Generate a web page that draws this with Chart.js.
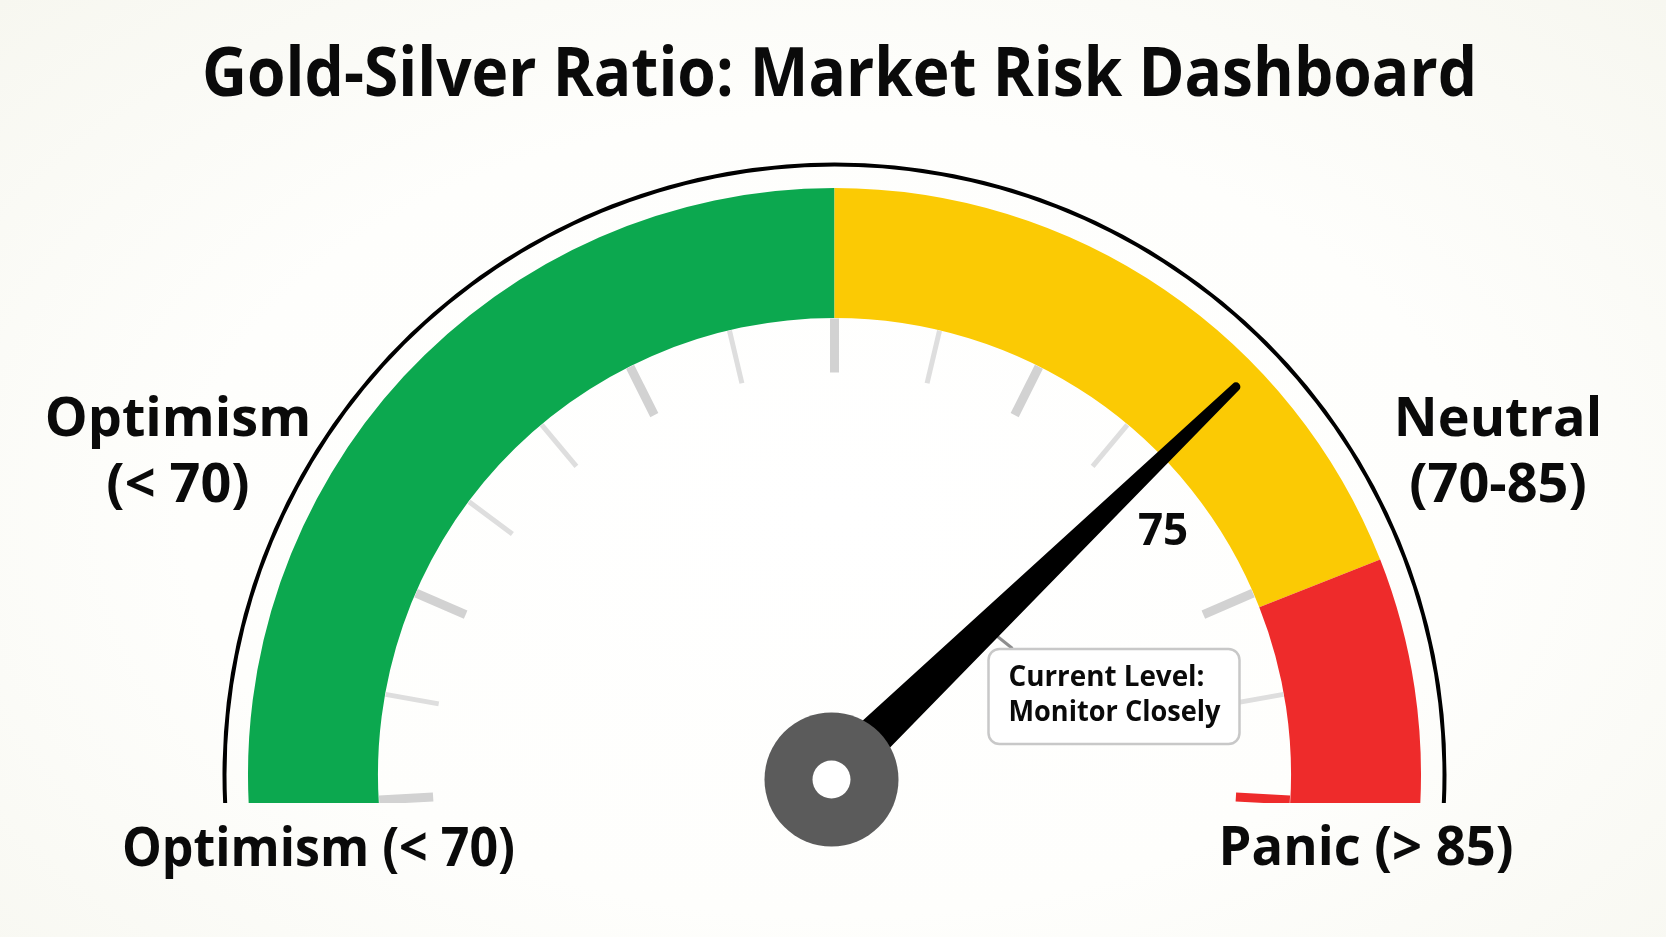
<!DOCTYPE html>
<html>
<head>
<meta charset="utf-8">
<title>Gold-Silver Ratio: Market Risk Dashboard</title>
<script src="https://cdn.jsdelivr.net/npm/chart.js@4.4.1/dist/chart.umd.min.js"></script>
<style>
  html, body { margin: 0; padding: 0; }
  body { width: 1666px; height: 937px; overflow: hidden; background: radial-gradient(ellipse at 50% 55%, #ffffff 0%, #fefefc 55%, #f7f7f0 100%); }
  #wrap { position: relative; width: 1666px; height: 937px; }
</style>
</head>
<body>
<div id="wrap"><canvas id="gauge"></canvas></div>
<script>
const chartTitle = "Gold-Silver Ratio: Market Risk Dashboard";
const zoneLabels = ["Optimism (< 70)", "Neutral (70-85)", "Panic (> 85)"];
const zoneSweep = [90, 68.5, 21.5];
const zoneColors = ["#0ca84f", "#fbca04", "#ee2b2b"];
const tickCount = 15;
const tickFrom = -3.2, tickTo = 183.2;
const majorTicks = [0, 2, 5, 7, 9, 12, 14];
const tickLabels = ["", "", "", "", "", "", "", "", "", "", "", "75", "", "", ""];
const needleDial = 136;
const calloutLines = ["Current Level:", "Monitor Closely"];

// the bands run a bit below horizontal and get cut flat
const TAIL = 4.5, DROP = 28.5, OUTER = 612;
const arcData = zoneSweep.map((v, i) => v + (i === 0 || i === zoneSweep.length - 1 ? TAIL : 0));
const arcTotal = arcData.reduce((a, b) => a + b, 0);
const offY = (1 - Math.sin(TAIL * Math.PI / 180)) / 2 * OUTER;
const padTop = Math.round(2 * (774.5 - offY) - 937);
const FONT = "'Open Sans', 'Noto Sans', sans-serif";

function txt(ctx, s, x, y, size, align, maxW) {
    ctx.font = `bold ${size}px ${FONT}`;
    ctx.textAlign = align; ctx.textBaseline = "alphabetic"; ctx.fillStyle = "#0a0a0a";
    const w = ctx.measureText(s).width;
    if (maxW && w > maxW) ctx.fillText(s, x, y, maxW); else ctx.fillText(s, x, y);
}

function roundRect(ctx, x, y, w, h, r) {
    ctx.beginPath();
    ctx.moveTo(x + r, y); ctx.lineTo(x + w - r, y); ctx.arcTo(x + w, y, x + w, y + r, r);
    ctx.lineTo(x + w, y + h - r); ctx.arcTo(x + w, y + h, x + w - r, y + h, r);
    ctx.lineTo(x + r, y + h); ctx.arcTo(x, y + h, x, y + h - r, r);
    ctx.lineTo(x, y + r); ctx.arcTo(x, y, x + r, y, r); ctx.closePath();
}

const gaugeDecor = {
    id: "gaugeDecor",
    beforeDatasetsDraw(chart) {
        const arc = chart.getDatasetMeta(2).data[0];
        chart.ctx.save();
        chart.ctx.beginPath();
        chart.ctx.rect(0, 0, chart.width, arc.y + DROP);
        chart.ctx.clip();
    },
    afterDatasetsDraw(chart) {
        const ctx = chart.ctx;
        const arcs = chart.getDatasetMeta(2).data;
        const cx = arcs[0].x, cy = arcs[0].y, inner = arcs[0].innerRadius;
        const left = arcs[0].startAngle + TAIL * Math.PI / 180;
        const angOf = d => left + d * Math.PI / 180;

        // ticks (still clipped to the flat bottom)
        for (let i = 0; i < tickCount; i++) {
            const a = angOf(tickFrom + i * (tickTo - tickFrom) / (tickCount - 1));
            if (tickLabels[i]) continue;
            const major = majorTicks.includes(i);
            ctx.strokeStyle = i === tickCount - 1 ? zoneColors[zoneColors.length - 1] : (major ? "#d2d2d2" : "#dedede");
            ctx.lineWidth = major ? 9 : 5;
            ctx.lineCap = "butt";
            ctx.beginPath();
            ctx.moveTo(cx + Math.cos(a) * 402, cy + Math.sin(a) * 402);
            ctx.lineTo(cx + Math.cos(a) * (inner - 0.5), cy + Math.sin(a) * (inner - 0.5));
            ctx.stroke();
        }
        ctx.restore();
        ctx.save();
        for (let i = 0; i < tickCount; i++) {
            if (!tickLabels[i]) continue;
            const a = angOf(tickFrom + i * (tickTo - tickFrom) / (tickCount - 1));
            txt(ctx, tickLabels[i], cx + Math.cos(a) * 410, cy + Math.sin(a) * 410 + 16, 44, "center");
        }

        // callout box + pointer
        const bx = cx + 154, by = cy - 125.5;
        ctx.strokeStyle = "#8e8e8e"; ctx.lineWidth = 3;
        ctx.beginPath(); ctx.moveTo(cx + 158, cy - 142); ctx.lineTo(cx + 178, cy - 126); ctx.stroke();
        roundRect(ctx, bx, by, 251, 95, 11);
        ctx.fillStyle = "#ffffff"; ctx.fill();
        ctx.strokeStyle = "#c8c8c8"; ctx.lineWidth = 2.5; ctx.stroke();
        txt(ctx, calloutLines[0], bx + 20, by + 37.5, 28, "left", 196);
        txt(ctx, calloutLines[1], bx + 20, by + 72.5, 28, "left", 212);

        // needle
        const a = angOf(needleDial), p = a + Math.PI / 2;
        const tipR = 558, baseW = 21, tipW = 4.5;
        const tx = cx + Math.cos(a) * tipR, ty = cy + Math.sin(a) * tipR;
        ctx.fillStyle = "#000";
        ctx.beginPath();
        ctx.moveTo(cx + Math.cos(p) * baseW, cy + Math.sin(p) * baseW);
        ctx.lineTo(tx + Math.cos(p) * tipW, ty + Math.sin(p) * tipW);
        ctx.arc(tx, ty, tipW, p, p - Math.PI, true);
        ctx.lineTo(cx - Math.cos(p) * baseW, cy - Math.sin(p) * baseW);
        ctx.closePath(); ctx.fill();

        // hub
        ctx.fillStyle = "#5b5b5b";
        ctx.beginPath(); ctx.arc(cx - 3, cy + 5, 67, 0, Math.PI * 2); ctx.fill();
        ctx.fillStyle = "#ffffff";
        ctx.beginPath(); ctx.arc(cx - 3, cy + 5, 19, 0, Math.PI * 2); ctx.fill();
        ctx.restore();
    },
    afterDraw(chart) {
        const ctx = chart.ctx;
        ctx.save();
        txt(ctx, chartTitle, 839.5, 96, 68, "center", 1275);
        // side labels: name over range
        const side = (label, x) => {
            const k = label.indexOf(" (");
            txt(ctx, label.slice(0, k), x, 436, 54, "center");
            txt(ctx, label.slice(k + 1), x, 502, 54, "center");
        };
        side(zoneLabels[0], 178);
        side(zoneLabels[1], 1498);
        txt(ctx, zoneLabels[0], 318.5, 866, 54, "center", 393);
        txt(ctx, zoneLabels[2], 1366, 865, 54, "center", 295);
        ctx.restore();
    }
};

new Chart(document.getElementById("gauge"), {
    type: "doughnut",
    data: {
        labels: zoneLabels,
        datasets: [
            { label: "rim", data: [arcTotal], backgroundColor: ["#000000"], weight: 4 },
            { label: "gap", data: [arcTotal], backgroundColor: ["rgba(0,0,0,0)"], weight: 21.5 },
            { label: "zones", data: arcData, backgroundColor: zoneColors, weight: 130 }
        ]
    },
    options: {
        responsive: true, maintainAspectRatio: false, animation: false, events: [],
        radius: OUTER, cutout: "74.6%",
        rotation: -90 - TAIL, circumference: arcTotal,
        borderWidth: 0, hoverOffset: 0,
        layout: { padding: { top: padTop, left: 3, right: 0, bottom: 0 } },
        plugins: { legend: { display: false }, tooltip: { enabled: false }, title: { display: false } }
    },
    plugins: [gaugeDecor]
});
</script>
</body>
</html>
